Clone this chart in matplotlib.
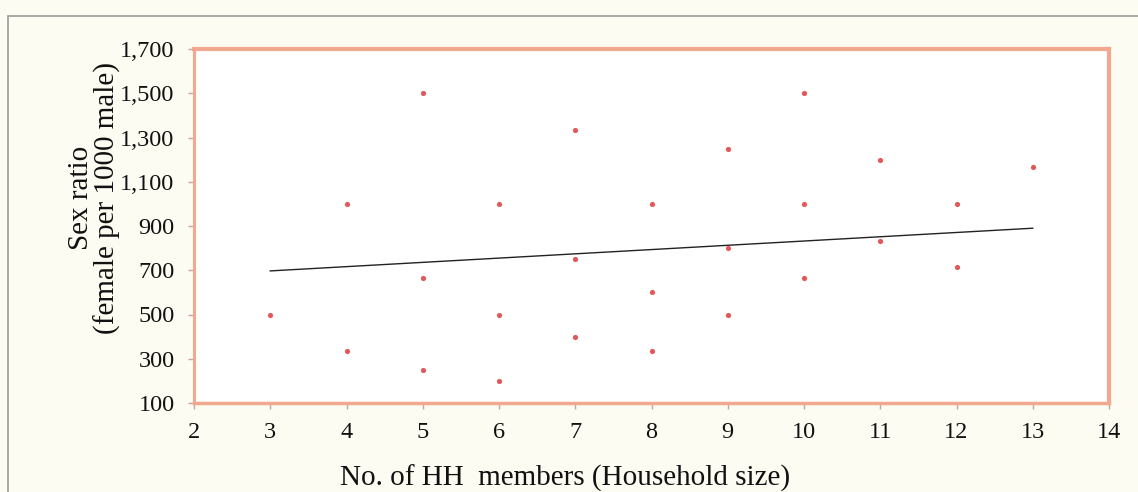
import numpy as np
import matplotlib
matplotlib.use("Agg")
import matplotlib.pyplot as plt
from matplotlib.patches import Rectangle
from matplotlib.ticker import FuncFormatter

# Household size vs sex ratio (female per 1000 male)
hh_size = [3, 4, 4, 5, 5, 5, 6, 6, 6, 7, 7, 7, 8, 8, 8,
           9, 9, 9, 10, 10, 10, 11, 11, 12, 12, 13]
sex_ratio = [500, 1000, 333, 1500, 667, 250, 1000, 500, 200, 1333, 750, 400,
             1000, 600, 333, 1250, 800, 500, 1500, 1000, 667, 1200, 833,
             1000, 714, 1167]
# trend line as drawn in the original chart
trend_x = [3, 13]
trend_y = [697, 890]
x_ticks = list(range(2, 15))
y_ticks = list(range(100, 1701, 200))

plt.rcParams['font.family'] = ['Liberation Serif', 'DejaVu Serif']

fig = plt.figure(figsize=(11.38, 4.92), dpi=100)
fig.patch.set_facecolor('#fdfcf2')
# outer chart frame
fig.patches.append(Rectangle((8 / 1138, -0.05), 1.2, 1 - 16 / 492 + 0.05,
                             transform=fig.transFigure, fill=False,
                             edgecolor='#9a9a9a', linewidth=1.2))

ax = fig.add_axes([194 / 1138, 1 - 403 / 492, (1109 - 194) / 1138, (403 - 49) / 492])
ax.set_facecolor('white')

ax.scatter(hh_size, sex_ratio, s=14, marker='o', color='#e2585a', linewidths=0, zorder=3)
ax.plot(trend_x, trend_y, color='#222222', linewidth=1.0)

ax.set_xlim(2, 14)
ax.set_ylim(100, 1700)
ax.set_xticks(x_ticks)
ax.set_yticks(y_ticks)
ax.yaxis.set_major_formatter(FuncFormatter(lambda v, p: f"{int(v):,}"))

for s in ax.spines.values():
    s.set_color('#f2a88e')
    s.set_linewidth(3)
ax.spines['left'].set_linewidth(2.2)
ax.spines['bottom'].set_linewidth(2.5)
ax.tick_params(direction='out', length=4, width=1, color='#c8a49a',
               labelsize=17.5, pad=10, labelcolor='#111111')

ax.set_xlabel("No. of HH  members (Household size)", fontsize=21, color='#111111')
ax.xaxis.set_label_coords(0.406, -0.175)
ax.set_ylabel("Sex ratio\n(female per 1000 male)", fontsize=21,
              linespacing=1.0, color='#111111')
ax.yaxis.set_label_coords(-0.08, 0.58)

fig.savefig("out.png", dpi=100, facecolor=fig.get_facecolor())
